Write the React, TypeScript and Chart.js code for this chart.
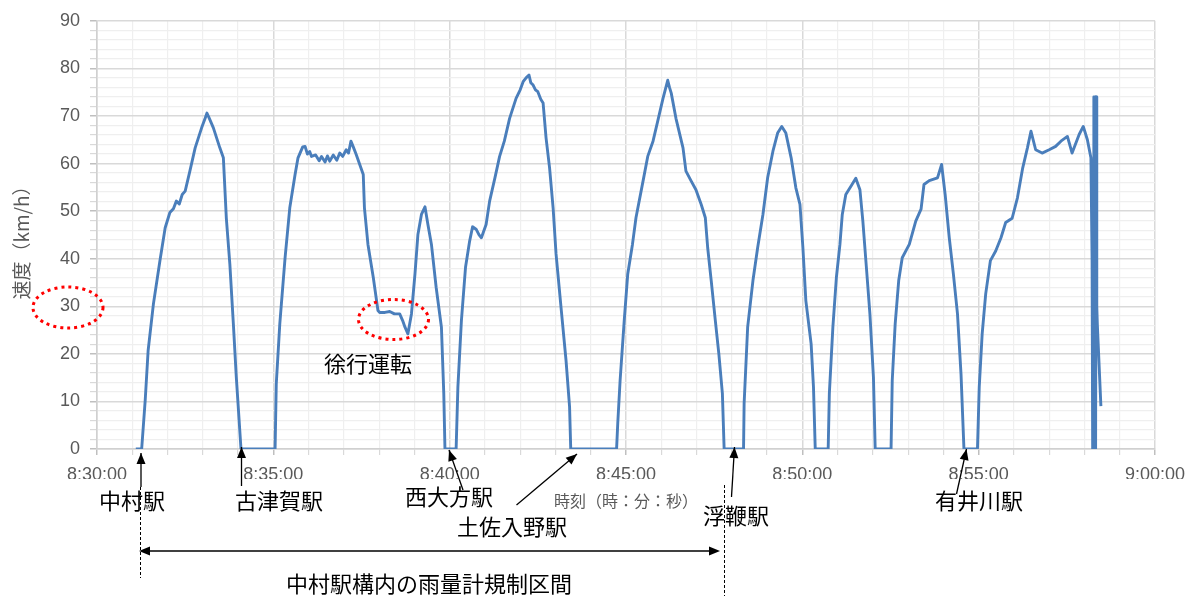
import React, { useEffect, useRef } from "react";
import { Chart, registerables } from "chart.js";

Chart.register(...registerables);

// Seconds elapsed since 8:30:00
const timeSec = [
  66, 76, 82, 87, 96, 107, 116, 124, 130, 135, 140, 145, 150, 158, 167, 178, 184, 187, 190, 198, 209, 215, 220, 226, 232, 237, 245,
  303, 305, 311, 320, 328, 337, 342, 350, 354, 358, 362, 365, 372, 378, 382, 388, 392, 396, 402, 408, 413, 418, 424, 428, 432, 436, 441,
  453, 455, 461, 470, 478, 481, 490, 498, 506, 515, 520, 524, 529, 535, 541, 546, 552, 558, 563, 569, 577, 586, 590, 592,
  611, 614, 620, 627, 634, 639, 645, 650, 654, 662, 668, 677, 685, 693, 702, 713, 720, 725, 730, 735, 738, 742, 746, 750, 755, 759,
  764, 770, 776, 781, 790, 798, 804, 806,
  884, 886, 890, 897, 903, 911, 917, 929, 937, 946, 954, 963, 971, 974, 977, 985, 997, 1002, 1011, 1019, 1028, 1035, 1039, 1045,
  1052, 1058, 1064, 1067,
  1100, 1101, 1107, 1116, 1124, 1133, 1141, 1150, 1158, 1165, 1172, 1181, 1189, 1196, 1201, 1206, 1215, 1219, 1222,
  1244, 1246, 1252, 1258, 1264, 1268, 1274, 1283, 1291, 1298, 1303, 1309, 1315, 1321, 1324,
  1351, 1353, 1358, 1364, 1370, 1382, 1393, 1402, 1407, 1416, 1430, 1437, 1443, 1450, 1457, 1464, 1470, 1475,
  1498, 1501, 1506, 1512, 1520, 1529, 1538, 1546, 1557, 1566, 1575, 1583, 1589, 1597, 1608, 1620, 1631, 1640, 1651, 1659,
  1671, 1678, 1685, 1691, 1693, 1694, 1695, 1696, 1697, 1698, 1699, 1700, 1701, 1702, 1708,
];

// Speed (km/h)
const speedKmh = [
  0, 0, 10.2, 20.7, 30.5, 39.5, 46.5, 49.7, 50.5, 52.1, 51.5, 53.5, 54.2, 58.4, 63.3, 67.5, 69.5, 70.6, 69.8, 67.5, 63.3, 61.2, 48.6, 38.9, 26.3, 15.1, 0,
  0, 13.7, 26.3, 40.2, 50.7, 57.7, 61.2, 63.5, 63.6, 62.0, 62.5, 61.5, 61.8, 60.6, 61.5, 60.3, 61.6, 60.5, 61.8, 60.7, 62.2, 61.5, 62.9, 62.2, 64.7, 63.5, 61.9,
  57.7, 50.7, 43, 36.1, 29.1, 28.7, 28.7, 28.9, 28.4, 28.4, 27.0, 25.6, 24.2, 28.4, 36.8, 45.1, 49.3, 50.9, 47.2, 43, 34, 25.6, 11.7, 0,
  0, 13, 27, 38.2, 43.7, 46.7, 46.2, 45.0, 44.4, 47.2, 52.1, 57, 61.5, 64.7, 69.5, 73.7, 75.5, 77.2, 78.0, 78.6, 77.0, 76.5, 75.5, 75.1, 73.5, 72.7,
  65.4, 59.1, 50.7, 41, 29.1, 18.6, 8.9, 0,
  0, 5.4, 14.4, 27, 36.8, 43, 48.6, 56.3, 61.5, 64.7, 68.9, 73.7, 77.5, 76.0, 74.8, 69.5, 63.3, 58.4, 56.3, 54.5, 51.4, 48.6, 42.3, 35.4,
  27, 20, 11.7, 0,
  0, 9.6, 25.6, 35.4, 42.3, 49.3, 57, 62.6, 66.4, 67.8, 66.4, 61.2, 54.9, 51.4, 42.3, 31.2, 22.1, 13, 0,
  0, 11.7, 25.6, 36.1, 43, 49.3, 53.5, 55.3, 56.9, 54.5, 47.9, 38.2, 28.4, 15.1, 0,
  0, 14.4, 26.3, 35.4, 40.2, 43, 47.9, 50.4, 55.6, 56.4, 57, 59.8, 53.5, 44.4, 36.8, 28.4, 15.8, 0,
  0, 13, 24.2, 32.6, 39.6, 41.6, 44.4, 47.6, 48.5, 52.8, 59.1, 63.3, 66.8, 62.9, 62.2, 62.9, 63.6, 64.7, 65.7, 62.2,
  66.1, 67.8, 65, 61.2, 40, 0, 0, 74, 0, 74, 0, 74, 30, 26, 9,
];

const xTickLabels = ["8:30:00", "8:35:00", "8:40:00", "8:45:00", "8:50:00", "8:55:00", "9:00:00"];
const yTickLabels = ["0", "10", "20", "30", "40", "50", "60", "70", "80", "90"];

const yAxisTitle = "速度（km/h）";
const xAxisTitle = "時刻（時：分：秒）";
const stationNames = ["中村駅", "古津賀駅", "西大方駅", "土佐入野駅", "浮鞭駅", "有井川駅"];
const slowNote = "徐行運転";
const sectionNote = "中村駅構内の雨量計規制区間";

const JP = '"Noto Sans CJK JP", "Noto Sans", sans-serif';
const NUM = '"Liberation Sans", Arial, sans-serif';

function arrowHead(ctx: CanvasRenderingContext2D, x1: number, y1: number, x2: number, y2: number, len = 11, w = 4.5) {
  const a = Math.atan2(y2 - y1, x2 - x1);
  ctx.beginPath();
  ctx.moveTo(x2, y2);
  ctx.lineTo(x2 - len * Math.cos(a) + w * Math.sin(a), y2 - len * Math.sin(a) - w * Math.cos(a));
  ctx.lineTo(x2 - len * Math.cos(a) - w * Math.sin(a), y2 - len * Math.sin(a) + w * Math.cos(a));
  ctx.closePath();
  ctx.fill();
}

function arrow(ctx: CanvasRenderingContext2D, x1: number, y1: number, x2: number, y2: number) {
  ctx.beginPath();
  ctx.moveTo(x1, y1);
  ctx.lineTo(x2, y2);
  ctx.stroke();
  arrowHead(ctx, x1, y1, x2, y2);
}

const annotationPlugin = {
  id: "annotations",
  afterDraw(chart: any) {
    const ctx: CanvasRenderingContext2D = chart.ctx;
    ctx.save();

    // axis titles
    ctx.fillStyle = "#595959";
    ctx.font = `19px ${JP}`;
    ctx.textAlign = "center";
    ctx.textBaseline = "middle";
    ctx.save();
    ctx.translate(22, 238);
    ctx.rotate(-Math.PI / 2);
    ctx.fillText(yAxisTitle, 0, 0);
    ctx.restore();
    ctx.font = `16px ${JP}`;
    ctx.fillText(xAxisTitle, 626, 501);

    // station labels
    ctx.fillStyle = "#000";
    ctx.font = `22px ${JP}`;
    const pos = [
      [132, 501],
      [279, 501],
      [449, 497],
      [512, 527],
      [736, 516],
      [979, 501],
    ];
    stationNames.forEach((n, i) => ctx.fillText(n, pos[i][0], pos[i][1]));
    ctx.fillText(slowNote, 368, 364);
    ctx.fillText(sectionNote, 429, 584);

    // arrows
    ctx.strokeStyle = "#000";
    ctx.fillStyle = "#000";
    ctx.lineWidth = 1.3;
    arrow(ctx, 141, 487, 141, 453);
    arrow(ctx, 241.5, 486, 241.5, 447);
    arrow(ctx, 463, 490, 449, 450);
    arrow(ctx, 516.5, 505, 577, 454);
    arrow(ctx, 731.5, 497, 734.5, 447);
    arrow(ctx, 956.5, 494, 966.5, 449);
    // double arrow
    ctx.beginPath();
    ctx.moveTo(145, 551);
    ctx.lineTo(714, 551);
    ctx.stroke();
    arrowHead(ctx, 200, 551, 139, 551);
    arrowHead(ctx, 660, 551, 720, 551);

    // dashed verticals
    ctx.lineWidth = 1;
    ctx.setLineDash([3, 2]);
    ctx.beginPath();
    ctx.moveTo(140.5, 487);
    ctx.lineTo(140.5, 578);
    ctx.moveTo(724.5, 485);
    ctx.lineTo(724.5, 596);
    ctx.stroke();

    // red dotted ellipses
    ctx.strokeStyle = "#ff0000";
    ctx.lineWidth = 3;
    ctx.setLineDash([3, 4]);
    ctx.beginPath();
    ctx.ellipse(68, 307.5, 35, 20.5, 0, 0, Math.PI * 2);
    ctx.stroke();
    ctx.beginPath();
    ctx.ellipse(393.5, 319.5, 35, 20, 0, 0, Math.PI * 2);
    ctx.stroke();

    ctx.restore();
  },
};

export default function App() {
  const ref = useRef<HTMLCanvasElement | null>(null);
  useEffect(() => {
    if (!ref.current) return;
    const points = timeSec.map((t, i) => ({ x: t, y: speedKmh[i] }));
    const chart = new Chart(ref.current, {
      type: "line",
      data: {
        datasets: [
          {
            data: points,
            borderColor: "#4a7ebb",
            borderWidth: 2.9,
            pointRadius: 0,
            tension: 0,
            fill: false,
            borderJoinStyle: "round",
          },
        ],
      },
      options: {
        animation: false,
        responsive: false,
        maintainAspectRatio: false,
        layout: { padding: { left: 37, right: 38, top: 19, bottom: 117 } },
        plugins: { legend: { display: false }, tooltip: { enabled: false } },
        scales: {
          x: {
            type: "linear",
            min: 0,
            max: 1800,
            afterFit: (s: any) => {
              s.height = 30;
            },
            ticks: {
              stepSize: 60,
              autoSkip: false,
              maxRotation: 0,
              padding: 9,
              color: "#595959",
              font: { family: NUM, size: 18 },
              callback: (v: any) => (Number(v) % 300 === 0 ? xTickLabels[Number(v) / 300] : ""),
            },
            grid: {
              color: (c: any) => (c.tick && c.tick.value % 300 === 0 ? "#d9d9d9" : "#efefef"),
              lineWidth: (c: any) => (c.tick && c.tick.value % 300 === 0 ? 1.5 : 1.2),
              tickLength: 6,
              tickColor: (c: any) => (c.tick && c.tick.value % 300 === 0 ? "#bfbfbf" : "#d9d9d9"),
            },
            border: { color: "#d0d0d0", width: 1.5 },
          },
          y: {
            min: 0,
            max: 90,
            afterFit: (s: any) => {
              s.width = 60;
            },
            ticks: {
              stepSize: 2,
              autoSkip: false,
              padding: 10,
              color: "#595959",
              font: { family: NUM, size: 18 },
              callback: (v: any) => (Number(v) % 10 === 0 ? yTickLabels[Number(v) / 10] : ""),
            },
            grid: {
              color: (c: any) => (c.tick && c.tick.value % 10 === 0 ? "#d9d9d9" : "#efefef"),
              lineWidth: (c: any) => (c.tick && c.tick.value % 10 === 0 ? 1.5 : 1.2),
              tickLength: 7,
              tickColor: (c: any) => (c.tick && c.tick.value % 10 === 0 ? "#bfbfbf" : "#d9d9d9"),
            },
            border: { color: "#d0d0d0", width: 1.5 },
          },
        },
      },
      plugins: [annotationPlugin],
    });
    return () => chart.destroy();
  }, []);
  return (
    <div style={{ position: "fixed", left: 0, top: 0, width: 1194, height: 596, background: "#fff" }}>
      <canvas ref={ref} width={1194} height={596} style={{ display: "block" }} />
    </div>
  );
}
